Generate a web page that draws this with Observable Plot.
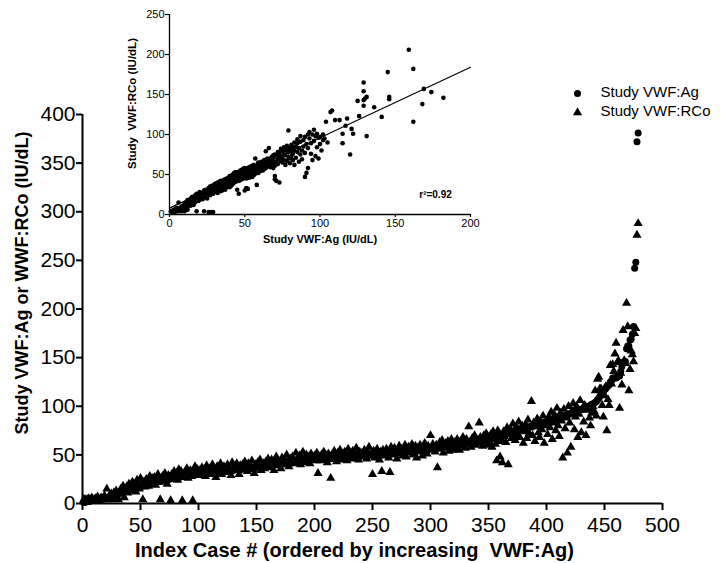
<!DOCTYPE html>
<html><head><meta charset="utf-8">
<script src="https://cdn.jsdelivr.net/npm/d3@7"></script>
<script src="https://cdn.jsdelivr.net/npm/@observablehq/plot@0.6"></script>
<style>
body{margin:0;background:#fff;}
#wrap{position:relative;width:721px;height:563px;}
#wrap svg{position:absolute;top:0;}
</style></head><body><div id="wrap"></div>
<script>
// Study VWF:Ag per index case, ordered by increasing VWF:Ag (IU/dL)
const agValues = [
1,1,2,2,2,2,3,3,3,3,3,4,4,4,4,4,5,5,5,5,
6,6,7,7,8,8,9,9,10,10,10,11,11,12,12,12,13,13,14,14,
15,15,15,16,16,16,17,17,17,18,18,18,19,19,19,20,20,20,21,21,
21,22,22,22,23,23,23,23,24,24,24,25,25,25,25,26,26,26,26,27,
27,27,27,27,28,28,28,28,28,28,29,29,29,29,29,29,30,30,30,30,
30,30,30,31,31,31,31,31,31,32,32,32,32,32,32,32,33,33,33,33,
33,33,33,34,34,34,34,34,34,34,35,35,35,35,35,35,35,36,36,36,
36,36,36,36,37,37,37,37,37,37,38,38,38,38,38,38,39,39,39,39,
39,39,40,40,40,40,40,40,41,41,41,41,41,41,42,42,42,42,42,42,
42,43,43,43,43,43,43,43,44,44,44,44,44,44,44,44,45,45,45,45,
45,45,45,45,45,46,46,46,46,46,46,46,46,46,47,47,47,47,47,47,
47,47,47,48,48,48,48,48,48,48,48,48,49,49,49,49,49,49,49,49,
49,50,50,50,50,50,50,50,50,50,51,51,51,51,51,51,51,51,52,52,
52,52,52,52,52,52,53,53,53,53,53,53,53,53,54,54,54,54,54,54,
54,54,55,55,55,55,55,55,55,56,56,56,56,56,56,57,57,57,57,57,
57,57,58,58,58,58,58,59,59,59,59,59,60,60,60,60,60,61,61,61,
61,61,62,62,62,62,62,63,63,63,63,64,64,64,64,65,65,65,65,66,
66,66,66,67,67,67,67,68,68,68,68,69,69,69,69,70,70,70,70,70,
71,71,71,72,72,72,73,73,73,74,74,74,75,75,75,76,76,76,77,77,
77,78,78,78,79,79,79,80,80,80,81,81,81,82,82,82,83,83,83,84,
84,85,85,85,86,86,87,87,87,88,88,89,89,90,90,90,91,91,92,92,
92,93,93,94,94,95,95,96,96,97,97,98,98,99,99,100,100,101,102,102,
103,104,105,107,108,110,113,115,115,117,118,120,121,122,125,126,129,129,129,129,
130,131,131,136,141,145,146,146,159,162,162,168,169,174,182,242,248,372,381
];
// Study VWF:RCo for the same cases (IU/dL)
const rcoValues = [
4,4,4,3,5,4,4,6,3,4,5,4,7,4,4,6,5,4,8,5,
15,4,8,6,10,4,11,7,13,9,4,12,15,10,18,6,14,17,11,20,
18,13,22,16,20,12,24,18,15,26,20,4,22,17,25,23,18,28,20,26,
22,27,19,24,30,22,4,26,28,24,31,26,20,29,27,3,30,25,33,28,
31,24,35,29,33,3,27,32,30,36,26,31,34,28,3,33,38,30,35,32,
34,29,37,32,35,28,39,33,30,36,34,40,31,35,27,38,33,36,41,30,
35,38,32,36,40,33,37,29,42,35,38,34,41,36,30,39,37,40,35,43,
38,33,41,36,39,44,35,31,40,37,42,38,45,34,39,41,36,43,39,46,
42,37,45,40,34,43,48,39,44,41,36,47,42,45,40,50,44,38,46,43,
48,45,41,52,46,43,49,40,47,53,44,42,50,46,48,41,51,47,45,49,
46,52,31,48,44,50,47,53,45,49,42,51,48,26,50,46,54,47,43,52,
49,55,45,51,47,53,50,44,56,48,52,46,54,50,47,57,51,45,53,49,
52,48,55,50,46,53,58,49,51,30,54,47,52,56,50,45,53,33,55,51,
49,56,53,47,32,58,54,50,57,52,46,55,59,51,56,49,53,60,48,55,
58,52,56,61,50,54,59,47,57,53,60,55,49,58,62,54,51,59,56,70,
55,61,57,53,60,37,58,63,56,65,52,59,62,57,64,54,60,66,58,55,
63,57,66,60,55,64,59,68,62,57,66,61,79,63,58,67,62,70,60,65,
62,83,68,64,59,70,65,72,60,67,63,71,58,74,66,61,44,75,64,48,
66,42,74,69,63,78,40,71,76,67,82,72,65,79,70,84,68,75,80,62,
74,81,67,86,72,78,105,70,83,64,79,87,73,68,84,76,90,62,80,85,
71,89,78,94,66,83,91,75,98,80,69,93,85,47,97,77,88,52,100,83,
58,95,103,76,89,100,68,92,106,73,98,84,101,70,96,97,88,80,93,100,
95,116,90,128,130,118,118,101,89,111,120,75,107,101,142,123,143,136,154,165,
145,147,98,134,122,178,147,144,206,182,116,138,157,153,146,175,180,276,288
];
const seriesNames = ["Study VWF:Ag", "Study VWF:RCo"];
const mainXTicks = [0,50,100,150,200,250,300,350,400,450,500];
const mainYTicks = [0,50,100,150,200,250,300,350,400];
const insetXTicks = [0,50,100,150,200];
const insetYTicks = [0,50,100,150,200,250];
const fitAg = [0, 200];
const fitRCo = [8, 184];
const r2Text = ["r\u00b2=0.92"];
const mainXLabel = ["Index Case # (ordered by increasing\u00a0 VWF:Ag)"];
const mainYLabel = ["Study VWF:Ag or WWF:RCo (IU/dL)"];
const insetXLabel = ["Study VWF:Ag (IU/dL)"];
const insetYLabel = ["Study\u00a0 VWF:RCo (IU/dL)"];

const n = Math.min(agValues.length, rcoValues.length);
const cases = d3.range(n).map(i => ({idx: i + 1, ag: agValues[i], rco: rcoValues[i]}));
const insetCases = cases.filter(d => d.ag <= 200);
const fitLine = fitAg.map((a, i) => ({ag: a, rco: fitRCo[i]}));
const font = "'Liberation Sans', Arial, Helvetica, sans-serif";
const mid = {textAnchor: "middle", lineAnchor: "middle"};

const main = Plot.plot({
  width: 721, height: 563,
  marginLeft: 82, marginRight: 59, marginTop: 114, marginBottom: 60,
  style: {fontFamily: font, background: "transparent", overflow: "visible", color: "black"},
  x: {domain: [0, 500]},
  y: {domain: [0, 400]},
  marks: [
    Plot.dot(cases, {x: "idx", y: "ag", r: 3.5, fill: "black", stroke: "none"}),
    Plot.dot(cases, {x: "idx", y: "rco", symbol: "triangle", r: 3.4, fill: "black", stroke: "none"}),
    Plot.ruleX([0], {stroke: "black", strokeWidth: 2}),
    Plot.ruleY([0], {stroke: "black", strokeWidth: 2}),
    Plot.axisX({ticks: mainXTicks, tickSize: 7, tickPadding: 7, strokeWidth: 2, fontSize: 21, label: null, tickFormat: d => String(d)}),
    Plot.axisY({ticks: mainYTicks, tickSize: 6, tickPadding: 1, strokeWidth: 2, fontSize: 21, label: null, tickFormat: d => String(d)}),
    Plot.text(mainXLabel, {text: d => d, frameAnchor: "bottom", dx: -18, dy: 47, fontSize: 20, fontWeight: "bold", ...mid}),
    Plot.text(mainYLabel, {text: d => d, frameAnchor: "left", dx: -60, dy: -26, rotate: -90, fontSize: 18, fontWeight: "bold", ...mid}),
    Plot.dot([seriesNames[0]], {frameAnchor: "top-right", dx: -85, dy: -21, r: 3.5, fill: "black"}),
    Plot.dot([seriesNames[1]], {frameAnchor: "top-right", dx: -85, dy: -2, r: 3.4, symbol: "triangle", fill: "black"}),
    Plot.text([seriesNames[0]], {text: d => d, frameAnchor: "top-right", dx: -62, dy: -22, textAnchor: "start", lineAnchor: "middle", fontSize: 15}),
    Plot.text([seriesNames[1]], {text: d => d, frameAnchor: "top-right", dx: -62, dy: -3, textAnchor: "start", lineAnchor: "middle", fontSize: 15})
  ]
});

const inset = Plot.plot({
  width: 400, height: 260,
  marginLeft: 69, marginRight: 30, marginTop: 14, marginBottom: 46,
  style: {fontFamily: font, background: "transparent", overflow: "visible", color: "black"},
  x: {domain: [0, 200]},
  y: {domain: [0, 250]},
  marks: [
    Plot.dot(insetCases, {x: "ag", y: "rco", r: 2.3, fill: "black", stroke: "none"}),
    Plot.line(fitLine, {x: "ag", y: "rco", stroke: "black", strokeWidth: 1.2}),
    Plot.ruleX([0], {stroke: "black", strokeWidth: 1.3}),
    Plot.ruleY([0], {stroke: "black", strokeWidth: 1.3}),
    Plot.axisX({ticks: insetXTicks, tickSize: 3, tickPadding: 2, strokeWidth: 1.2, fontSize: 11, label: null}),
    Plot.axisY({ticks: insetYTicks, tickSize: 4, tickPadding: 1, strokeWidth: 1.2, fontSize: 11, label: null}),
    Plot.text(insetXLabel, {text: d => d, frameAnchor: "bottom", dx: 0, dy: 25, fontSize: 11, fontWeight: "bold", ...mid}),
    Plot.text(insetYLabel, {text: d => d, frameAnchor: "left", dx: -37, dy: -11, rotate: -90, fontSize: 11.5, fontWeight: "bold", ...mid}),
    Plot.text(r2Text, {text: d => d, frameAnchor: "bottom-right", dx: -35, dy: -20, fontSize: 10, fontWeight: "bold", ...mid})
  ]
});

const wrap = document.getElementById("wrap");
main.style.left = "0px";
inset.style.left = "100px";
wrap.appendChild(main);
wrap.appendChild(inset);
</script>
</body></html>
